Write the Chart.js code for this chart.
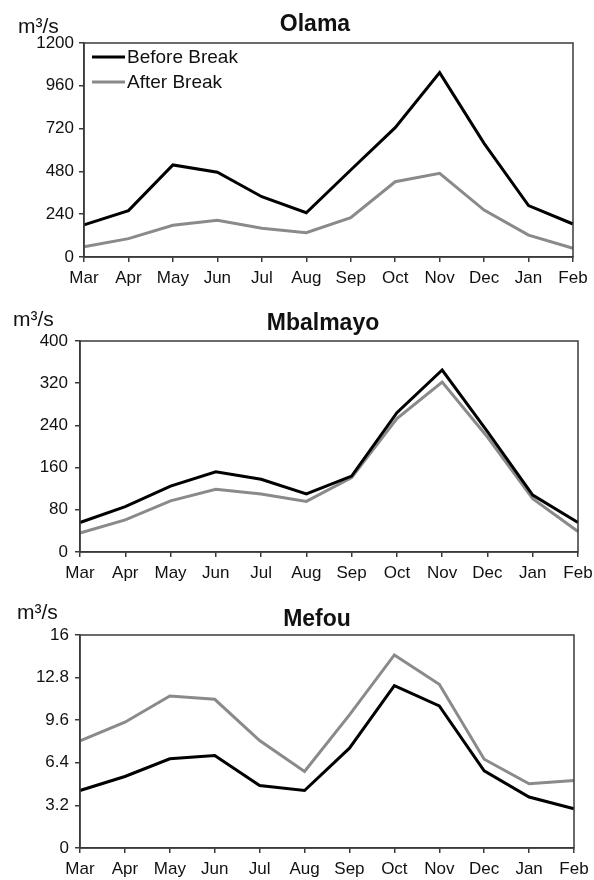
<!DOCTYPE html>
<html>
<head>
<meta charset="utf-8">
<script src="https://cdn.jsdelivr.net/npm/chart.js@4"></script>
<style>
  body { margin: 0; background: #fff; }
  .wrap { position: absolute; left: 0; width: 594px; }
</style>
</head>
<body>
<div class="wrap" style="top:0;height:293px"><canvas id="olama"></canvas></div>
<div class="wrap" style="top:293px;height:294px"><canvas id="mbalmayo"></canvas></div>
<div class="wrap" style="top:587px;height:293px"><canvas id="mefou"></canvas></div>
<script>
// months, hydrological year starting in March
const months = ['Mar', 'Apr', 'May', 'Jun', 'Jul', 'Aug', 'Sep', 'Oct', 'Nov', 'Dec', 'Jan', 'Feb'];
const seriesNames = ['Before Break', 'After Break'];

// Olama
const olamaBefore = [180, 260, 516, 475, 338, 248, 488, 725, 1034, 637, 288, 185];
const olamaAfter = [58, 103, 178, 206, 161, 136, 220, 422, 469, 263, 123, 49];
const olamaTicks = [0, 240, 480, 720, 960, 1200];

// Mbalmayo
const mbalBefore = [56, 86, 125, 152, 138, 110, 144, 264, 345, 228, 108, 56];
const mbalAfter = [36, 61, 97, 119, 110, 96, 141, 253, 322, 218, 101, 39];
const mbalTicks = [0, 80, 160, 240, 320, 400];

// Mefou
const mefouBefore = [4.32, 5.37, 6.70, 6.95, 4.70, 4.32, 7.5, 12.2, 10.67, 5.8, 3.83, 2.95];
const mefouAfter = [8.05, 9.45, 11.42, 11.17, 8.07, 5.75, 10.0, 14.5, 12.3, 6.67, 4.82, 5.07];
const mefouTicks = [0, 3.2, 6.4, 9.6, 12.8, 16];

const FONT = "'Liberation Sans', Arial, sans-serif";
const AXIS = '#3a3a3a';
const BLACK = '#000000';
const GREY = '#8a8a8a';

// frame, title, unit and (optional) legend drawn on top
const decorPlugin = {
  id: 'decor',
  afterDraw(chart, args, opts) {
    const { ctx, chartArea: a } = chart;
    ctx.save();
    ctx.strokeStyle = AXIS;
    ctx.lineWidth = 1.5;
    ctx.strokeRect(a.left, a.top, a.right - a.left, a.bottom - a.top);

    ctx.fillStyle = '#111';
    ctx.font = 'bold 23px ' + FONT;
    ctx.textAlign = 'center';
    ctx.textBaseline = 'alphabetic';
    ctx.fillText(opts.title, opts.titleX, opts.titleY);

    ctx.font = '21px ' + FONT;
    ctx.textAlign = 'left';
    ctx.fillText('m³/s', opts.unitX, opts.unitY);

    if (opts.legend) {
      ctx.font = '19px ' + FONT;
      ctx.textBaseline = 'middle';
      chart.data.datasets.forEach((ds, i) => {
        const y = opts.legendY + i * 25;
        ctx.strokeStyle = ds.borderColor;
        ctx.lineWidth = 3;
        ctx.beginPath();
        ctx.moveTo(92, y);
        ctx.lineTo(125, y);
        ctx.stroke();
        ctx.fillStyle = '#111';
        ctx.fillText(ds.label, 127, y + 1);
      });
    }
    ctx.restore();
  }
};

function fmt(v) {
  return String(Number(v.toFixed(2)));
}

function makeChart(id, before, after, ticks, cfg) {
  new Chart(document.getElementById(id), {
    type: 'line',
    data: {
      labels: months,
      datasets: [
        { label: seriesNames[0], data: before, borderColor: BLACK, borderWidth: 3, pointRadius: 0, tension: 0 },
        { label: seriesNames[1], data: after, borderColor: GREY, borderWidth: 3, pointRadius: 0, tension: 0 }
      ]
    },
    options: {
      responsive: true,
      maintainAspectRatio: false,
      animation: false,
      layout: { padding: { top: cfg.top, right: cfg.right, left: 0, bottom: 0 } },
      plugins: {
        legend: { display: false },
        tooltip: { enabled: false },
        decor: cfg.decor
      },
      scales: {
        x: {
          offset: false,
          grid: { display: true, drawOnChartArea: false, color: AXIS, tickLength: 5, lineWidth: 1.5 },
          border: { color: AXIS, width: 1.5 },
          ticks: { color: '#111', font: { family: FONT, size: 17 }, padding: 6, maxRotation: 0, autoSkip: false },
          afterFit(s) { s.height = cfg.xHeight; s.paddingLeft = 0; s.paddingRight = 0; }
        },
        y: {
          min: ticks[0],
          max: ticks[ticks.length - 1],
          afterBuildTicks(s) { s.ticks = ticks.map(v => ({ value: v })); },
          grid: { display: true, drawOnChartArea: false, color: AXIS, tickLength: 5, lineWidth: 1.5 },
          border: { color: AXIS, width: 1.5 },
          ticks: { color: '#111', font: { family: FONT, size: 17 }, padding: cfg.yPad, callback: v => fmt(v) },
          afterFit(s) { s.width = cfg.yWidth; s.paddingTop = 0; s.paddingBottom = 0; }
        }
      }
    },
    plugins: [decorPlugin]
  });
}

makeChart('olama', olamaBefore, olamaAfter, olamaTicks, {
  top: 43, right: 21, yWidth: 84, xHeight: 36, yPad: 5,
  decor: { title: 'Olama', titleX: 315, titleY: 31, unitX: 18, unitY: 33, legend: true, legendY: 57 }
});
makeChart('mbalmayo', mbalBefore, mbalAfter, mbalTicks, {
  top: 48, right: 16, yWidth: 80, xHeight: 35, yPad: 7,
  decor: { title: 'Mbalmayo', titleX: 323, titleY: 37, unitX: 13, unitY: 33, legend: false }
});
makeChart('mefou', mefouBefore, mefouAfter, mefouTicks, {
  top: 48, right: 20, yWidth: 80, xHeight: 32, yPad: 6,
  decor: { title: 'Mefou', titleX: 317, titleY: 39, unitX: 17, unitY: 32, legend: false }
});
</script>
</body>
</html>
